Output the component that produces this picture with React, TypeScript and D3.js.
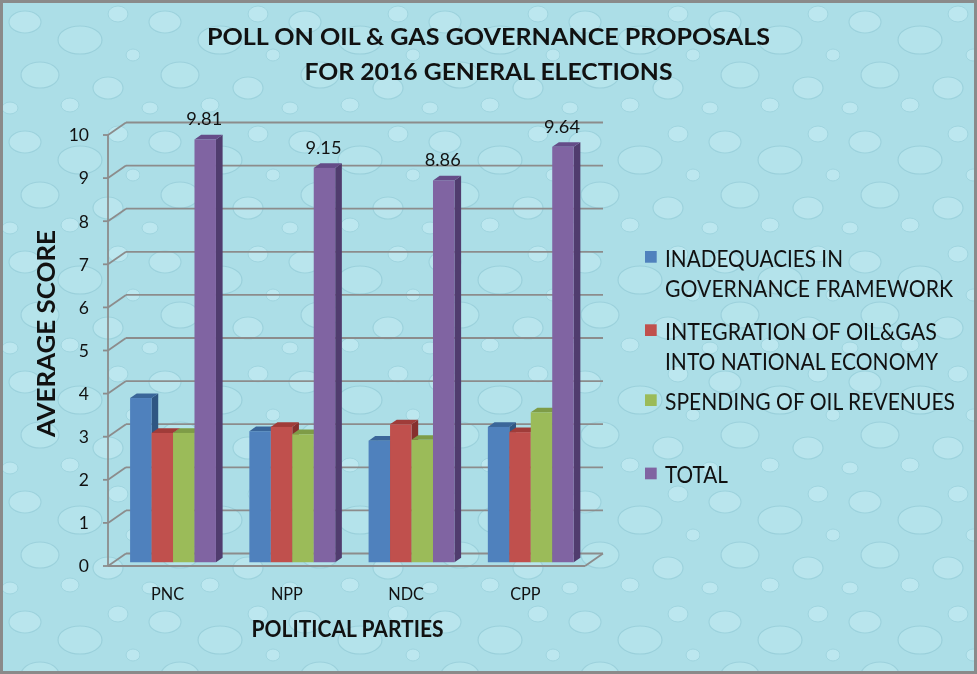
import React from "react";
import * as d3 from "d3";

const categories = ["PNC", "NPP", "NDC", "CPP"];
const seriesNames = [
  ["INADEQUACIES IN", "GOVERNANCE FRAMEWORK"],
  ["INTEGRATION OF OIL&GAS", "INTO NATIONAL ECONOMY"],
  ["SPENDING OF OIL REVENUES"],
  ["TOTAL"],
];
const inadequacies = [3.81, 3.04, 2.82, 3.14];
const integration = [3.0, 3.14, 3.2, 3.02];
const spending = [3.0, 2.97, 2.84, 3.48];
const total = [9.81, 9.15, 8.86, 9.64];
const yTicks = [0, 1, 2, 3, 4, 5, 6, 7, 8, 9, 10];
const titleLines = ["POLL ON OIL & GAS GOVERNANCE PROPOSALS", "FOR 2016 GENERAL ELECTIONS"];
const yTitle = "AVERAGE SCORE";
const xTitle = "POLITICAL PARTIES";

const series = [inadequacies, integration, spending, total];
const faceColors = ["#4F81BD", "#C0504D", "#9BBB59", "#8064A2"];
const topColors = ["#3A6699", "#A03C39", "#7E9C47", "#654C88"];
const sideColors = ["#2F5682", "#86302E", "#6A853A", "#503C6E"];

const W = 977;
const H = 674;
const FONT = "Lato, 'Open Sans', sans-serif";

// 3D geometry
const DX = 18;
const DY = -12.5;
const Z0 = 0.3;
const Z1 = 0.67;

// measured text widths of the legend lines
const legendWidths = [[178, 288], [272, 273], [290], [63]];

export default function App() {
  const y = d3.scaleLinear().domain([0, 10]).range([566, 135]);
  const x0 = d3.scaleBand<string>().domain(categories).range([108, 585]).paddingInner(0.28).paddingOuter(0.14);
  const x1 = d3.scaleBand<number>().domain(d3.range(series.length)).range([0, x0.bandwidth()]);
  const wallLeft = x0.range()[0];
  const wallRight = x0.range()[1];

  const shift = (z: number) => [DX * z, DY * z];
  const [fx, fy] = shift(Z0);
  const [bx, by] = shift(Z1);

  const bars: React.ReactNode[] = [];
  categories.forEach((c, ci) => {
    series.forEach((s, si) => {
      const v = s[ci];
      const xl = (x0(c) as number) + (x1(si) as number) + fx;
      const w = x1.bandwidth();
      const yt = y(v) + fy;
      const yb = y(0) + fy;
      const ddx = bx - fx;
      const ddy = by - fy;
      const top = `M${xl},${yt} L${xl + ddx},${yt + ddy} L${xl + w + ddx},${yt + ddy} L${xl + w},${yt} Z`;
      const side = `M${xl + w},${yt} L${xl + w + ddx},${yt + ddy} L${xl + w + ddx},${yb + ddy} L${xl + w},${yb} Z`;
      bars.push(
        <g key={`${ci}-${si}`}>
          <path d={side} fill={sideColors[si]} />
          <path d={top} fill={topColors[si]} />
          <rect x={xl} y={yt} width={w} height={yb - yt} fill={faceColors[si]} />
        </g>
      );
    });
  });

  const labels = categories.map((c, ci) => {
    const si = 3;
    const xl = (x0(c) as number) + (x1(si) as number) + fx;
    const cx = xl + x1.bandwidth() / 2 - 1;
    return (
      <text key={c} x={cx} y={y(total[ci]) + fy - 14} textAnchor="middle" fontSize={17} fontFamily={FONT} fill="#111" textLength={36} lengthAdjust="spacingAndGlyphs">
        {d3.format(".2f")(total[ci])}
      </text>
    );
  });

  const legendY = [266.7, 340, 410, 483.3];

  return (
    <svg width={W} height={H} style={{ position: "fixed", left: 0, top: 0 }} xmlns="http://www.w3.org/2000/svg">
      <defs>
        <pattern id="drops" width="140" height="120" patternUnits="userSpaceOnUse">
          <rect width="140" height="120" fill="#ACDEE7" />
          <ellipse cx="25" cy="22" rx="16" ry="11" fill="#BFE9F0" stroke="#95CDD8" strokeWidth="1.2" opacity="0.7" />
          <ellipse cx="80" cy="40" rx="22" ry="14" fill="#B9E6EE" stroke="#8EC7D3" strokeWidth="1.2" opacity="0.6" />
          <ellipse cx="118" cy="14" rx="10" ry="8" fill="#C3EBF2" stroke="#98CFDA" strokeWidth="1" opacity="0.7" />
          <ellipse cx="40" cy="75" rx="19" ry="13" fill="#BAE7EF" stroke="#90C8D4" strokeWidth="1.2" opacity="0.6" />
          <ellipse cx="108" cy="88" rx="15" ry="11" fill="#BFE9F0" stroke="#95CDD8" strokeWidth="1.2" opacity="0.7" />
          <ellipse cx="70" cy="105" rx="9" ry="7" fill="#C3EBF2" stroke="#98CFDA" strokeWidth="1" opacity="0.7" />
          <ellipse cx="10" cy="108" rx="8" ry="6" fill="#C3EBF2" stroke="#98CFDA" strokeWidth="1" opacity="0.7" />
          <ellipse cx="133" cy="55" rx="7" ry="6" fill="#C3EBF2" stroke="#98CFDA" strokeWidth="1" opacity="0.7" />
        </pattern>
      </defs>
      <rect x={0} y={0} width={W} height={H} fill="url(#drops)" />
      <rect x={1.5} y={1.5} width={W - 3} height={H - 3} fill="none" stroke="#8A8A8A" strokeWidth={3} />

      {titleLines.map((t, i) => (
        <text key={t} x={488.5} y={45 + i * 35} textAnchor="middle" fontSize={23.5} fontWeight="bold" fontFamily={FONT} fill="#111" textLength={i === 0 ? 563 : 368} lengthAdjust="spacingAndGlyphs">
          {t}
        </text>
      ))}

      <g stroke="#8C8C8C" strokeWidth={1.8} fill="none">
        {yTicks.map((t) => (
          <g key={t}>
            <line x1={wallLeft + DX} x2={wallRight + DX} y1={y(t) + DY} y2={y(t) + DY} />
            <line x1={wallLeft} x2={wallLeft + DX} y1={y(t)} y2={y(t) + DY} />
            <line x1={wallLeft - 5} x2={wallLeft} y1={y(t)} y2={y(t)} />
          </g>
        ))}
        <line x1={wallLeft} x2={wallLeft} y1={y(0)} y2={y(10)} />
        <line x1={wallLeft} x2={wallRight} y1={y(0)} y2={y(0)} />
        <line x1={wallRight} x2={wallRight + DX} y1={y(0)} y2={y(0) + DY} />
      </g>

      {yTicks.map((t) => (
        <text key={t} x={89} y={y(t) + 6.3} textAnchor="end" fontSize={17.5} fontFamily={FONT} fill="#111">
          {t}
        </text>
      ))}

      {bars}
      {labels}

      {categories.map((c) => (
        <text key={c} x={(x0(c) as number) + x0.bandwidth() / 2} y={600} textAnchor="middle" fontSize={16.3} fontFamily={FONT} fill="#111">
          {c}
        </text>
      ))}

      <text x={347.5} y={636.7} textAnchor="middle" fontSize={22.3} fontWeight="bold" fontFamily={FONT} fill="#111" textLength={192} lengthAdjust="spacingAndGlyphs">
        {xTitle}
      </text>
      <text transform={`translate(55,333.5) rotate(-90)`} textAnchor="middle" fontSize={24} fontWeight="bold" fontFamily={FONT} fill="#111" textLength={207} lengthAdjust="spacingAndGlyphs">
        {yTitle}
      </text>

      {seriesNames.map((lines, si) => (
        <g key={si}>
          <rect x={645} y={legendY[si] - 15.7} width={11.7} height={11.7} fill={faceColors[si]} />
          {lines.map((ln, li) => (
            <text key={ln} x={665} y={legendY[si] + li * 30} fontSize={22.3} fontFamily={FONT} fill="#111" textLength={legendWidths[si][li]} lengthAdjust="spacingAndGlyphs">
              {ln}
            </text>
          ))}
        </g>
      ))}
    </svg>
  );
}
